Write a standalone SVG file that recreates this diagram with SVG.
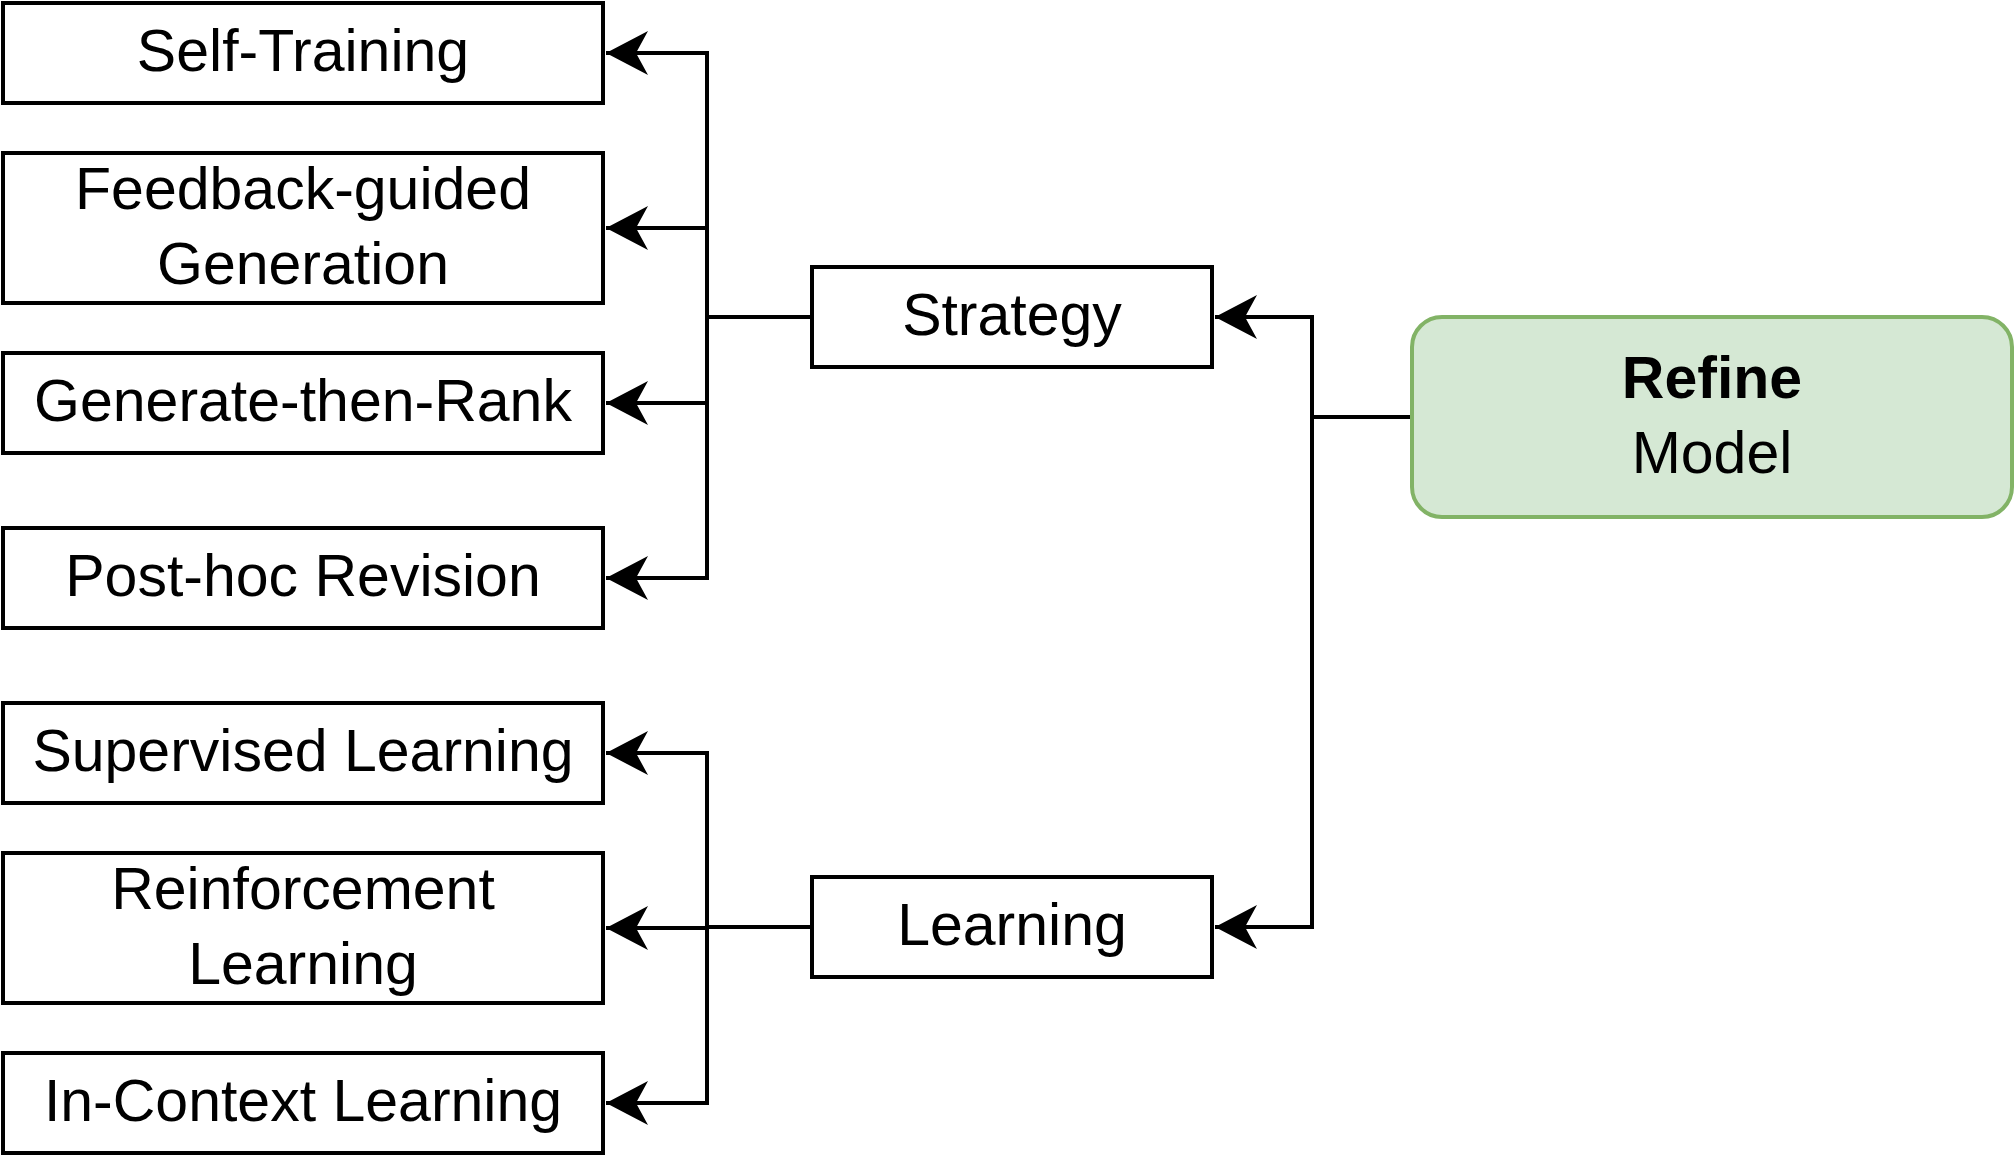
<svg xmlns="http://www.w3.org/2000/svg" width="2015" height="1155" viewBox="0 0 2015 1155">
<style>
.box{fill:#ffffff;stroke:#000000;stroke-width:4}
.root{fill:#d5e8d4;stroke:#82b366;stroke-width:4}
.t{font-family:"Liberation Sans",Arial,Helvetica,sans-serif;font-size:59px;fill:#000000;text-anchor:middle}
.b{font-weight:bold}
.edge{fill:none;stroke:#000000;stroke-width:4;marker-end:url(#arr)}
</style>
<defs>
<marker id="arr" markerUnits="userSpaceOnUse" markerWidth="50" markerHeight="50" viewBox="-45 -25 50 50" refX="0" refY="0" orient="auto">
<path d="M0,0 L-42,-22 L-30,0 L-42,22 Z" fill="#000000"/>
</marker>
</defs>
<rect width="2015" height="1155" fill="#ffffff"/>
<g id="connectors">
<path class="edge" d="M812,317 H707 V53 H606"/>
<path class="edge" d="M812,317 H707 V228 H606"/>
<path class="edge" d="M812,317 H707 V403 H606"/>
<path class="edge" d="M812,317 H707 V578 H606"/>
<path class="edge" d="M812,927 H707 V753 H606"/>
<path class="edge" d="M812,927 H707 V928 H606"/>
<path class="edge" d="M812,927 H707 V1103 H606"/>
<path class="edge" d="M1412,417 H1312 V317 H1215"/>
<path class="edge" d="M1412,417 H1312 V927 H1215"/>
</g>
<g id="refine">
<rect class="root" x="1412" y="317" width="600" height="200" rx="30" ry="30"/>
<text class="t b" x="1712" y="398">Refine</text>
<text class="t" x="1712" y="473">Model</text>
</g>
<g id="strategy">
<rect class="box" x="812" y="267" width="400" height="100"/>
<text class="t" x="1012" y="335">Strategy</text>
</g>
<g id="learning">
<rect class="box" x="812" y="877" width="400" height="100"/>
<text class="t" x="1012" y="945">Learning</text>
</g>
<g id="self-training">
<rect class="box" x="3" y="3" width="600" height="100"/>
<text class="t" x="303" y="71">Self-Training</text>
</g>
<g id="feedback-guided">
<rect class="box" x="3" y="153" width="600" height="150"/>
<text class="t" x="303" y="209">Feedback-guided</text>
<text class="t" x="303" y="284">Generation</text>
</g>
<g id="generate-then-rank">
<rect class="box" x="3" y="353" width="600" height="100"/>
<text class="t" x="303" y="421">Generate-then-Rank</text>
</g>
<g id="post-hoc">
<rect class="box" x="3" y="528" width="600" height="100"/>
<text class="t" x="303" y="596">Post-hoc Revision</text>
</g>
<g id="supervised">
<rect class="box" x="3" y="703" width="600" height="100"/>
<text class="t" x="303" y="771">Supervised Learning</text>
</g>
<g id="reinforcement">
<rect class="box" x="3" y="853" width="600" height="150"/>
<text class="t" x="303" y="909">Reinforcement</text>
<text class="t" x="303" y="984">Learning</text>
</g>
<g id="in-context">
<rect class="box" x="3" y="1053" width="600" height="100"/>
<text class="t" x="303" y="1121">In-Context Learning</text>
</g>
</svg>
